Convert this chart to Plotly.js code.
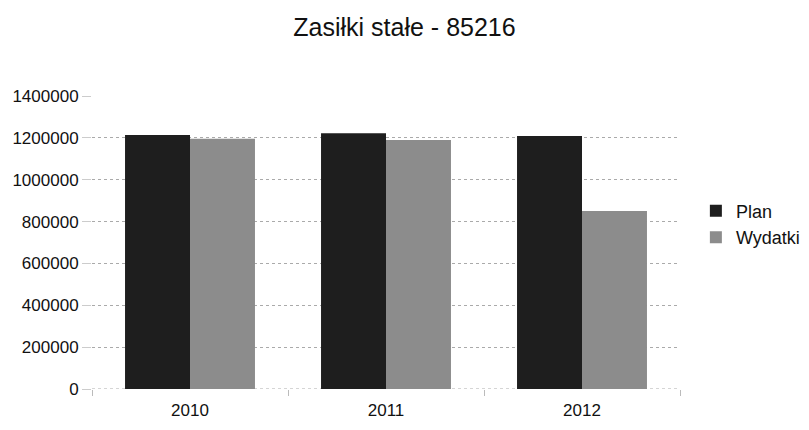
<!DOCTYPE html>
<html><head><meta charset="utf-8">
<script src="https://cdn.plot.ly/plotly-3.0.1.min.js"></script>
<style>body{margin:0;background:#fff}#c{width:809px;height:430px}</style>
</head><body><div id="c"></div>
<script>
const years = ['2010', '2011', '2012'];
const plan = [1214000, 1222000, 1209000];
const wydatki = [1196000, 1190000, 850000];
const tickVals = [0, 200000, 400000, 600000, 800000, 1000000, 1200000, 1400000];

const fnt = 'Liberation Sans, Arial, sans-serif';
const data = [
  {type: 'bar', name: 'Plan', x: years, y: plan,
   marker: {color: '#1e1e1e', line: {width: 0}}},
  {type: 'bar', name: 'Wydatki', x: years, y: wydatki,
   marker: {color: '#8c8c8c', line: {width: 0}}}
];
const layout = {
  width: 809, height: 430,
  margin: {l: 92, r: 129, t: 96, b: 41, autoexpand: false},
  paper_bgcolor: '#fff', plot_bgcolor: '#fff',
  title: {text: 'Zasiłki stałe - 85216', x: 0.5, xanchor: 'center', xref: 'container', y: 0.937, yanchor: 'middle',
          font: {family: fnt, size: 25, color: '#111'}},
  barmode: 'group', bargap: 0.337, bargroupgap: 0,
  font: {family: fnt, size: 17, color: '#111'},
  xaxis: {type: 'category', tickson: 'boundaries', ticks: 'outside', ticklen: 6, tickcolor: '#bbb',
          showline: false, showgrid: false, ticklabelstandoff: 9,
          tickfont: {family: fnt, size: 17, color: '#111'}},
  yaxis: {range: [0, 1400000], tickvals: tickVals, ticktext: tickVals.map(String),
          showgrid: true, gridcolor: '#aaa', griddash: 'dot', gridwidth: 1,
          zeroline: false, ticks: 'outside', ticklen: 9, tickcolor: '#ccc',
          tickfont: {family: fnt, size: 17, color: '#111'}},
  shapes: [{type: 'line', xref: 'paper', yref: 'y', x0: 0, x1: 1, y0: 0, y1: 0,
            line: {color: '#aaa', width: 1, dash: 'dot'}, layer: 'below'}],
  legend: {x: 1.027, y: 0.563, xanchor: 'left', yanchor: 'middle',
           font: {family: fnt, size: 18, color: '#111'}, itemwidth: 30, tracegroupgap: 0}
};
Plotly.newPlot('c', data, layout, {displayModeBar: false});
</script></body></html>
